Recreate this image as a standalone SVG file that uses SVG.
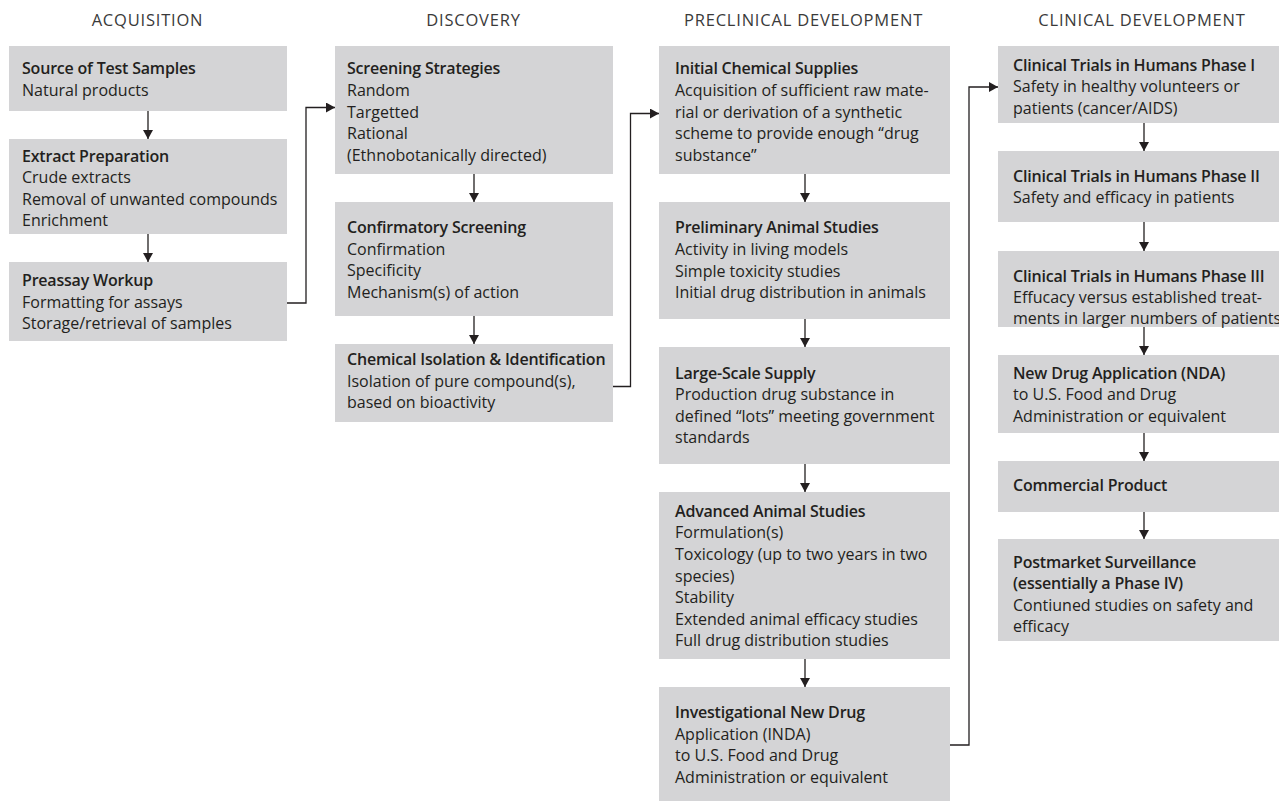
<svg xmlns="http://www.w3.org/2000/svg" width="1279" height="801" viewBox="0 0 1279 801">
<defs>
<style>
.box{fill:#d4d4d6}
.t{font-family:"Open Sans","Noto Sans","Liberation Sans",sans-serif;font-size:16px;fill:#231f20}
.b{font-weight:600;letter-spacing:-0.2px}
.h{font-family:"Open Sans","Noto Sans","Liberation Sans",sans-serif;font-size:16.5px;font-weight:400;fill:#3a3a3a;text-anchor:middle;letter-spacing:0.8px}
.c{fill:none;stroke:#231f20;stroke-width:1.3}
</style>
<marker id="ah" markerUnits="userSpaceOnUse" markerWidth="10" markerHeight="10" refX="9" refY="5" orient="auto">
<path d="M0,0 L9,5 L0,10 z" fill="#231f20"/>
</marker>
</defs>
<rect width="1279" height="801" fill="#ffffff"/>
<g id="headers">
<text class="h" x="147.5" y="26">ACQUISITION</text>
<text class="h" x="473.5" y="26">DISCOVERY</text>
<text class="h" x="803.5" y="26">PRECLINICAL DEVELOPMENT</text>
<text class="h" x="1142" y="26">CLINICAL DEVELOPMENT</text>
</g>
<g id="connectors">
<path class="c" marker-end="url(#ah)" d="M148,111 V139"/>
<path class="c" marker-end="url(#ah)" d="M148,234 V262"/>
<path class="c" marker-end="url(#ah)" d="M474,174 V202"/>
<path class="c" marker-end="url(#ah)" d="M474,316 V344"/>
<path class="c" marker-end="url(#ah)" d="M805,174 V202"/>
<path class="c" marker-end="url(#ah)" d="M805,319 V347"/>
<path class="c" marker-end="url(#ah)" d="M805,464 V492"/>
<path class="c" marker-end="url(#ah)" d="M805,659 V687"/>
<path class="c" marker-end="url(#ah)" d="M1144,123 V151"/>
<path class="c" marker-end="url(#ah)" d="M1144,222 V251"/>
<path class="c" marker-end="url(#ah)" d="M1144,327 V355"/>
<path class="c" marker-end="url(#ah)" d="M1144,433 V461"/>
<path class="c" marker-end="url(#ah)" d="M1144,512 V539"/>
<path class="c" marker-end="url(#ah)" d="M287,303 H306 V107.5 H335"/>
<path class="c" marker-end="url(#ah)" d="M613,386.5 H630.5 V113.5 H659"/>
<path class="c" marker-end="url(#ah)" d="M950,745 H969 V87 H998"/>
</g>
<g id="source-of-test-samples">
<rect class="box" x="9" y="46" width="278" height="65"/>
<text class="t b" x="22" y="74">Source of Test Samples</text>
<text class="t" x="22" y="95.5">Natural products</text>
</g>
<g id="extract-preparation">
<rect class="box" x="9" y="139" width="278" height="95"/>
<text class="t b" x="22" y="161.5">Extract Preparation</text>
<text class="t" x="22" y="183">Crude extracts</text>
<text class="t" x="22" y="204.5">Removal of unwanted compounds</text>
<text class="t" x="22" y="225.5">Enrichment</text>
</g>
<g id="preassay-workup">
<rect class="box" x="9" y="262" width="278" height="79"/>
<text class="t b" x="22" y="286">Preassay Workup</text>
<text class="t" x="22" y="307.5">Formatting for assays</text>
<text class="t" x="22" y="329">Storage/retrieval of samples</text>
</g>
<g id="screening-strategies">
<rect class="box" x="335" y="46" width="278" height="128"/>
<text class="t b" x="347" y="73.5">Screening Strategies</text>
<text class="t" x="347" y="95.5">Random</text>
<text class="t" x="347" y="117.5">Targetted</text>
<text class="t" x="347" y="139">Rational</text>
<text class="t" x="347" y="160.5">(Ethnobotanically directed)</text>
</g>
<g id="confirmatory-screening">
<rect class="box" x="335" y="202" width="278" height="114"/>
<text class="t b" x="347" y="233">Confirmatory Screening</text>
<text class="t" x="347" y="254.5">Confirmation</text>
<text class="t" x="347" y="276">Specificity</text>
<text class="t" x="347" y="297.5">Mechanism(s) of action</text>
</g>
<g id="chemical-isolation">
<rect class="box" x="335" y="344" width="278" height="78"/>
<text class="t b" x="347" y="365">Chemical Isolation &amp; Identification</text>
<text class="t" x="347" y="386.5">Isolation of pure compound(s),</text>
<text class="t" x="347" y="408">based on bioactivity</text>
</g>
<g id="initial-chemical-supplies">
<rect class="box" x="659" y="46" width="291" height="128"/>
<text class="t b" x="675" y="73.5">Initial Chemical Supplies</text>
<text class="t" x="675" y="95.5">Acquisition of sufficient raw mate-</text>
<text class="t" x="675" y="117.5">rial or derivation of a synthetic</text>
<text class="t" x="675" y="139">scheme to provide enough “drug</text>
<text class="t" x="675" y="160.5">substance”</text>
</g>
<g id="preliminary-animal-studies">
<rect class="box" x="659" y="202" width="291" height="117"/>
<text class="t b" x="675" y="233">Preliminary Animal Studies</text>
<text class="t" x="675" y="255">Activity in living models</text>
<text class="t" x="675" y="276.5">Simple toxicity studies</text>
<text class="t" x="675" y="298">Initial drug distribution in animals</text>
</g>
<g id="large-scale-supply">
<rect class="box" x="659" y="347" width="291" height="117"/>
<text class="t b" x="675" y="378.5">Large-Scale Supply</text>
<text class="t" x="675" y="400">Production drug substance in</text>
<text class="t" x="675" y="421.5">defined “lots” meeting government</text>
<text class="t" x="675" y="443">standards</text>
</g>
<g id="advanced-animal-studies">
<rect class="box" x="659" y="492" width="291" height="167"/>
<text class="t b" x="675" y="516.5">Advanced Animal Studies</text>
<text class="t" x="675" y="538">Formulation(s)</text>
<text class="t" x="675" y="560">Toxicology (up to two years in two</text>
<text class="t" x="675" y="581.5">species)</text>
<text class="t" x="675" y="603">Stability</text>
<text class="t" x="675" y="624.5">Extended animal efficacy studies</text>
<text class="t" x="675" y="646">Full drug distribution studies</text>
</g>
<g id="investigational-new-drug">
<rect class="box" x="659" y="687" width="291" height="114"/>
<text class="t b" x="675" y="718">Investigational New Drug</text>
<text class="t" x="675" y="739.5">Application (INDA)</text>
<text class="t" x="675" y="761">to U.S. Food and Drug</text>
<text class="t" x="675" y="782.5">Administration or equivalent</text>
</g>
<g id="phase-1">
<rect class="box" x="998" y="46" width="281" height="77"/>
<text class="t b" x="1013" y="70.5">Clinical Trials in Humans Phase I</text>
<text class="t" x="1013" y="92">Safety in healthy volunteers or</text>
<text class="t" x="1013" y="113.5">patients (cancer/AIDS)</text>
</g>
<g id="phase-2">
<rect class="box" x="998" y="151" width="281" height="71"/>
<text class="t b" x="1013" y="181.5">Clinical Trials in Humans Phase II</text>
<text class="t" x="1013" y="203">Safety and efficacy in patients</text>
</g>
<g id="phase-3">
<rect class="box" x="998" y="251" width="281" height="76"/>
<text class="t b" x="1013" y="281.5">Clinical Trials in Humans Phase III</text>
<text class="t" x="1013" y="303">Effucacy versus established treat-</text>
<text class="t" x="1013" y="324">ments in larger numbers of patients</text>
</g>
<g id="nda">
<rect class="box" x="998" y="355" width="281" height="78"/>
<text class="t b" x="1013" y="378.5">New Drug Application (NDA)</text>
<text class="t" x="1013" y="400">to U.S. Food and Drug</text>
<text class="t" x="1013" y="421.5">Administration or equivalent</text>
</g>
<g id="commercial-product">
<rect class="box" x="998" y="461" width="281" height="51"/>
<text class="t b" x="1013" y="491">Commercial Product</text>
</g>
<g id="postmarket-surveillance">
<rect class="box" x="998" y="539" width="281" height="102"/>
<text class="t b" x="1013" y="567.5">Postmarket Surveillance</text>
<text class="t b" x="1013" y="589">(essentially a Phase IV)</text>
<text class="t" x="1013" y="610.5">Contiuned studies on safety and</text>
<text class="t" x="1013" y="632">efficacy</text>
</g>
</svg>
